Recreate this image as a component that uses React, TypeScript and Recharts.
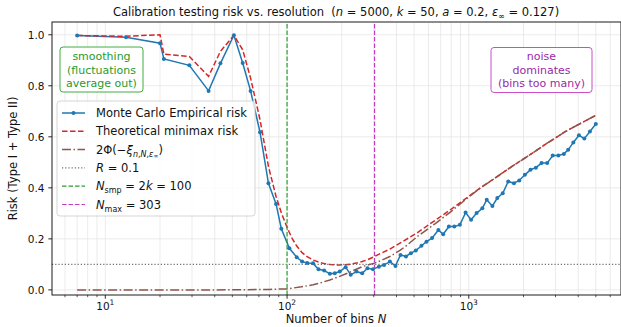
import React from 'react';
import { LineChart, Line, XAxis, YAxis, CartesianGrid, ReferenceLine } from 'recharts';

// ---------------- data ----------------
const mcN = [7, 13, 20, 21, 29, 37, 43, 51, 57, 63, 71, 79, 87, 93, 103, 113, 121, 129, 139, 149, 160, 172, 183, 195, 210, 224, 241, 259, 277, 297, 320, 342, 368, 395, 421, 451, 480, 511, 549, 585, 628, 680, 723, 777, 832, 893, 960, 1029, 1104, 1187, 1255, 1348, 1435, 1537, 1648, 1771, 1895, 2035, 2185, 2339, 2514, 2700, 2896, 3110, 3335, 3523, 3760, 4036, 4323, 4640, 5000];
const mcRisk = [0.997, 0.99, 0.967, 0.905, 0.88, 0.78, 0.888, 0.998, 0.889, 0.78, 0.618, 0.418, 0.337, 0.24, 0.163, 0.128, 0.111, 0.105, 0.104, 0.081, 0.076, 0.063, 0.065, 0.072, 0.089, 0.059, 0.072, 0.065, 0.085, 0.081, 0.091, 0.098, 0.111, 0.094, 0.137, 0.131, 0.144, 0.154, 0.173, 0.189, 0.203, 0.235, 0.218, 0.248, 0.248, 0.255, 0.303, 0.275, 0.301, 0.32, 0.353, 0.329, 0.36, 0.379, 0.425, 0.418, 0.429, 0.451, 0.471, 0.479, 0.497, 0.497, 0.527, 0.527, 0.533, 0.549, 0.578, 0.606, 0.593, 0.621, 0.65];

const theoryN = [7, 13, 20, 21, 29, 37, 43, 51, 57, 63, 71, 79, 87, 93, 100, 103, 107, 113, 121, 129, 139, 149, 160, 172, 183, 195, 210, 224, 241, 259, 277, 303, 323, 368, 418, 518, 651, 788, 953, 1153, 1309, 1485, 1752, 2174, 2697, 3389, 4101, 5000];
const theoryRisk = [0.997, 0.994, 1.0, 0.924, 0.915, 0.837, 0.935, 0.998, 0.941, 0.83, 0.667, 0.484, 0.366, 0.302, 0.245, 0.225, 0.2, 0.172, 0.146, 0.13, 0.117, 0.109, 0.103, 0.1, 0.098, 0.098, 0.099, 0.101, 0.105, 0.111, 0.118, 0.131, 0.141, 0.16, 0.183, 0.223, 0.272, 0.313, 0.356, 0.399, 0.425, 0.452, 0.487, 0.53, 0.575, 0.62, 0.652, 0.684];

const phiN = [7, 20, 40, 60, 80, 100, 107, 120, 139, 155, 172, 190, 213, 235, 261, 303, 323, 368, 418, 457, 518, 651, 788, 953, 1153, 1309, 1485, 1752, 2174, 2697, 3389, 4101, 5000];
const phiRisk = [0.0, 0.0, 0.0, 0.001, 0.002, 0.004, 0.007, 0.012, 0.02, 0.029, 0.039, 0.05, 0.064, 0.078, 0.092, 0.105, 0.113, 0.131, 0.155, 0.175, 0.208, 0.259, 0.304, 0.352, 0.399, 0.425, 0.452, 0.487, 0.53, 0.575, 0.62, 0.652, 0.684];

const xMajorTicks = [10, 100, 1000];
const xMinorTicks = [6, 7, 8, 9, 20, 30, 40, 50, 60, 70, 80, 90, 200, 300, 400, 500, 600, 700, 800, 900, 2000, 3000, 4000, 5000, 6000];
const xTickExponents = ['1', '2', '3'];
const yTicks = [0, 0.2, 0.4, 0.6, 0.8, 1.0];
const yTickLabels = ['0.0', '0.2', '0.4', '0.6', '0.8', '1.0'];

const nSmp = 100;
const nMax = 303;
const rLevel = 0.1;

const mcData = mcN.map((n, i) => ({ n, v: mcRisk[i] }));
const theoryData = theoryN.map((n, i) => ({ n, v: theoryRisk[i] }));
const phiData = phiN.map((n, i) => ({ n, v: phiRisk[i] }));
const xTicks = [...xMajorTicks, ...xMinorTicks].sort((a, b) => a - b);

// ---------------- styles ----------------
const FONT = 'DejaVu Sans, sans-serif';
const C_BLUE = '#1f77b4';
const C_RED = '#d62728';
const C_BROWN = '#8c564b';
const C_GRAY = '#6e6e6e';
const C_GREEN = '#2ca02c';
const C_PURPLE = '#c23bc2';
const C_PURPLE_TEXT = '#9a2aa6';
const C_GREEN_TEXT = '#2a9a2a';

const XTick = (props: any) => {
  const { x, y, payload } = props;
  const v = payload.value;
  const mi = xMajorTicks.indexOf(v);
  const major = mi >= 0;
  return (
    <g>
      <line x1={x} x2={x} y1={y} y2={y + (major ? 3.7 : 2.2)} stroke="#111" strokeWidth={major ? 0.9 : 0.7} />
      {major && (
        <text x={x} y={y + 14.5} textAnchor="middle" fontSize={10.5} fill="#111" fontFamily={FONT}>
          10<tspan dy={-4.5} fontSize={7.5}>{xTickExponents[mi]}</tspan>
        </text>
      )}
    </g>
  );
};

const YTick = (props: any) => {
  const { x, y, payload } = props;
  const i = yTicks.indexOf(payload.value);
  return (
    <g>
      <line x1={x} x2={x - 3.7} y1={y} y2={y} stroke="#111" strokeWidth={0.9} />
      <text x={x - 7.5} y={y + 3.8} textAnchor="end" fontSize={10.5} fill="#111" fontFamily={FONT}>
        {i >= 0 ? yTickLabels[i] : ''}
      </text>
    </g>
  );
};

const PL = 52, PT = 22, PR = 621, PB = 295;

const legendRows = [0, 1, 2, 3, 4, 5];
const LG = { x: 57, y: 101, w: 198, h: 115, rowY0: 113, rowDy: 18.3, lineX0: 62, lineX1: 85, textX: 96 };

export default function App() {
  const rowY = (i: number) => LG.rowY0 + i * LG.rowDy;
  return (
    <div style={{ position: 'absolute', left: 0, top: 0, width: 621, height: 327, background: '#fff', fontFamily: FONT }}>
      <LineChart width={621} height={327} margin={{ top: PT, right: 0, bottom: 0, left: 0 }}>
        <CartesianGrid stroke="#e6e6e6" strokeWidth={0.8} />
        <XAxis
          type="number"
          dataKey="n"
          scale="log"
          domain={[5.09, 6877]}
          allowDataOverflow
          ticks={xTicks}
          interval={0}
          tick={<XTick />}
          tickLine={false}
          axisLine={false}
          tickSize={0}
          tickMargin={0}
          height={32}
        />
        <YAxis
          type="number"
          domain={[-0.02, 1.05]}
          allowDataOverflow
          ticks={yTicks}
          interval={0}
          tick={<YTick />}
          tickLine={false}
          axisLine={false}
          tickSize={0}
          tickMargin={0}
          width={52}
        />
        <Line data={mcData} dataKey="v" type="linear" stroke={C_BLUE} strokeWidth={1.5}
          dot={{ r: 2, fill: C_BLUE, stroke: C_BLUE, strokeWidth: 0 }} isAnimationActive={false} />
        <Line data={theoryData} dataKey="v" type="linear" stroke={C_RED} strokeWidth={1.5}
          strokeDasharray="5.5 2.5" dot={false} isAnimationActive={false} />
        <Line data={phiData} dataKey="v" type="linear" stroke={C_BROWN} strokeWidth={1.5}
          strokeDasharray="9 2.5 1.5 2.5" dot={false} isAnimationActive={false} />
        <ReferenceLine y={rLevel} stroke={C_GRAY} strokeWidth={1.2} strokeDasharray="1.2 2" />
        <ReferenceLine x={nSmp} stroke={C_GREEN} strokeWidth={1.2} strokeDasharray="4.5 2" />
        <ReferenceLine x={nMax} stroke={C_PURPLE} strokeWidth={1.2} strokeDasharray="4.5 2" />
      </LineChart>

      <svg width={621} height={327} style={{ position: 'absolute', left: 0, top: 0, pointerEvents: 'none' }} fontFamily={FONT}>
        {/* frame */}
        <rect x={PL} y={PT} width={PR - PL} height={PB - PT} fill="none" stroke="#111" strokeWidth={0.9} />

        {/* title */}
        <text x={336} y={16} textAnchor="middle" fontSize={11.5} fill="#111" style={{ whiteSpace: 'pre' }}>
          Calibration testing risk vs. resolution  (<tspan fontStyle="italic">n</tspan> = 5000, <tspan fontStyle="italic">k</tspan> = 50, <tspan fontStyle="italic">a</tspan> = 0.2, <tspan fontStyle="italic">ε</tspan><tspan dy={2.5} fontSize={8}>∞</tspan><tspan dy={-2.5}> = 0.127)</tspan>
        </text>

        {/* axis labels */}
        <text x={336} y={323} textAnchor="middle" fontSize={11.5} fill="#111">
          Number of bins <tspan fontStyle="italic">N</tspan>
        </text>
        <text transform="translate(17,158.5) rotate(-90)" textAnchor="middle" fontSize={11.5} fill="#111">
          Risk (Type I + Type II)
        </text>

        {/* annotation: smoothing */}
        <rect x={60} y={47} width={83} height={45} rx={3} fill="#fff" stroke={C_GREEN} strokeWidth={0.9} />
        <text textAnchor="middle" fontSize={11} fill={C_GREEN_TEXT}>
          <tspan x={101.5} y={60}>smoothing</tspan>
          <tspan x={101.5} y={73.5}>(fluctuations</tspan>
          <tspan x={101.5} y={87}>average out)</tspan>
        </text>

        {/* annotation: noise */}
        <rect x={491} y={47.5} width={101} height={45} rx={3} fill="#fff" stroke={C_PURPLE} strokeWidth={0.9} />
        <text textAnchor="middle" fontSize={11} fill={C_PURPLE_TEXT}>
          <tspan x={541.5} y={60}>noise</tspan>
          <tspan x={541.5} y={73.5}>dominates</tspan>
          <tspan x={541.5} y={87}>(bins too many)</tspan>
        </text>

        {/* legend */}
        <rect x={LG.x} y={LG.y} width={LG.w} height={LG.h} rx={3} fill="#fff" fillOpacity={0.8} stroke="#d0d0d0" strokeWidth={0.9} />
        {legendRows.map((i) => {
          const y = rowY(i);
          if (i === 0) return (
            <g key={i}>
              <line x1={LG.lineX0} x2={LG.lineX1} y1={y} y2={y} stroke={C_BLUE} strokeWidth={1.5} />
              <circle cx={(LG.lineX0 + LG.lineX1) / 2} cy={y} r={2} fill={C_BLUE} />
            </g>
          );
          if (i === 1) return <line key={i} x1={LG.lineX0} x2={LG.lineX1} y1={y} y2={y} stroke={C_RED} strokeWidth={1.5} strokeDasharray="5.5 2.5" />;
          if (i === 2) return <line key={i} x1={LG.lineX0} x2={LG.lineX1} y1={y} y2={y} stroke={C_BROWN} strokeWidth={1.5} strokeDasharray="9 2.5 1.5 2.5" />;
          if (i === 3) return <line key={i} x1={LG.lineX0} x2={LG.lineX1} y1={y} y2={y} stroke={C_GRAY} strokeWidth={1.2} strokeDasharray="1.2 2" />;
          if (i === 4) return <line key={i} x1={LG.lineX0} x2={LG.lineX1} y1={y} y2={y} stroke={C_GREEN} strokeWidth={1.2} strokeDasharray="4.5 2" />;
          return <line key={i} x1={LG.lineX0} x2={LG.lineX1} y1={y} y2={y} stroke={C_PURPLE} strokeWidth={1.2} strokeDasharray="4.5 2" />;
        })}
        <g fontSize={11.5} fill="#111">
          <text x={LG.textX} y={rowY(0) + 4}>Monte Carlo Empirical risk</text>
          <text x={LG.textX} y={rowY(1) + 4}>Theoretical minimax risk</text>
          <text x={LG.textX} y={rowY(2) + 4}>
            2Φ(−<tspan fontStyle="italic">ξ</tspan><tspan dy={3} fontSize={8}><tspan fontStyle="italic">n</tspan>,<tspan fontStyle="italic">N</tspan>,<tspan fontStyle="italic">ε</tspan></tspan><tspan dy={1.5} fontSize={6}>∞</tspan><tspan dy={-4.5}>)</tspan>
          </text>
          <text x={LG.textX} y={rowY(3) + 4}>
            <tspan fontStyle="italic">R</tspan> = 0.1
          </text>
          <text x={LG.textX} y={rowY(4) + 4}>
            <tspan fontStyle="italic">N</tspan><tspan dy={3} fontSize={8}>smp</tspan><tspan dy={-3}> = 2</tspan><tspan fontStyle="italic">k</tspan> = 100
          </text>
          <text x={LG.textX} y={rowY(5) + 4}>
            <tspan fontStyle="italic">N</tspan><tspan dy={3} fontSize={8}>max</tspan><tspan dy={-3}> = 303</tspan>
          </text>
        </g>
      </svg>
    </div>
  );
}
